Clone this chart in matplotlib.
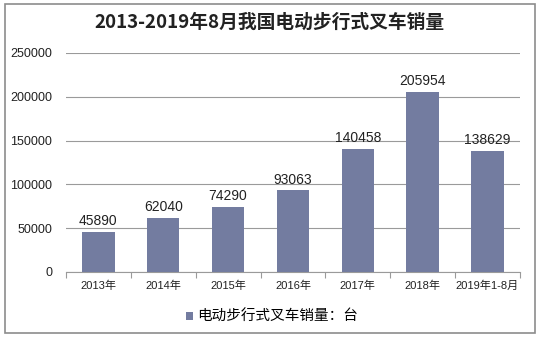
import matplotlib
matplotlib.use('Agg')
import matplotlib.pyplot as plt
from matplotlib.patches import Rectangle

plt.rcParams['font.family'] = ['Liberation Sans', 'Noto Sans CJK SC', 'DejaVu Sans']

# data
categories = ['2013年', '2014年', '2015年', '2016年', '2017年', '2018年', '2019年1-8月']
sales = [45890, 62040, 74290, 93063, 140458, 205954, 138629]
title = '2013-2019年8月我国电动步行式叉车销量'
series_name = '电动步行式叉车销量：台'

bar_color = '#737ca0'
grid_color = '#9a9a9a'

fig = plt.figure(figsize=(5.39, 3.38), dpi=100)
fig.patches.append(Rectangle((0.010, 0.014), 0.982, 0.975, transform=fig.transFigure,
                             fill=False, edgecolor='#8c8c8c', linewidth=1.2))
ax = fig.add_axes([0.1224, 0.1953, 0.8423, 0.648])

x = list(range(len(categories)))
bars = ax.bar(x, sales, width=0.5, color=bar_color, label=series_name, zorder=3)
for xi, v in zip(x, sales):
    ax.text(xi, v + 4000, str(v), ha='center', va='bottom', fontsize=10,
            color='#222222', zorder=4)

ax.set_xlim(-0.5, len(categories) - 0.5)
ax.set_ylim(0, 250000)
ax.set_yticks(range(0, 250001, 50000))
ax.yaxis.grid(True, color=grid_color, linewidth=0.8, zorder=0)
ax.tick_params(axis='y', length=0, labelsize=9, pad=10, labelcolor='#222222')
ax.set_xticks(x)
ax.set_xticklabels(categories, fontsize=8, color='#222222')
ax.set_xticks([i - 0.5 for i in range(len(categories) + 1)], minor=True)
ax.tick_params(axis='x', which='major', length=0, pad=6)
ax.tick_params(axis='x', which='minor', length=4, color=grid_color, width=0.8)
for s in ['top', 'right', 'left']:
    ax.spines[s].set_visible(False)
ax.spines['bottom'].set_color(grid_color)
ax.spines['bottom'].set_linewidth(0.8)

fig.text(0.5, 0.935, title, ha='center', va='center', fontsize=13.5,
         fontweight='bold', color='#222222', family=['Noto Sans CJK SC'])

fig.legend(handles=[bars], labels=[series_name], loc='center',
           bbox_to_anchor=(0.505, 0.062), frameon=False, fontsize=10.5,
           handlelength=0.5, handleheight=0.5, handletextpad=0.3)

fig.savefig('out.png', dpi=100)
